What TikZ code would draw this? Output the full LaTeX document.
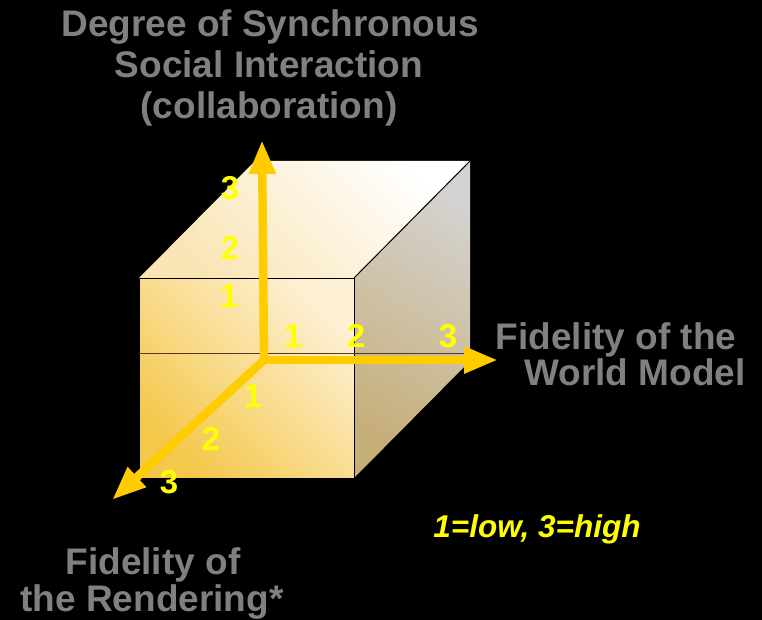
\documentclass[tikz,border=0pt]{standalone}
\usepackage{fontspec}
\setmainfont{Liberation Sans}
\usetikzlibrary{arrows.meta}
\definecolor{labelgray}{RGB}{128,128,128}
\definecolor{axisyellow}{RGB}{255,204,0}
\definecolor{numyellow}{RGB}{255,255,0}
\definecolor{frontA}{RGB}{244,200,75}
\definecolor{frontB}{RGB}{253,240,212}
\definecolor{topA}{RGB}{249,228,180}
\definecolor{topB}{RGB}{255,255,255}
\definecolor{sideA}{RGB}{212,210,208}
\definecolor{sideB}{RGB}{198,174,120}
\tikzset{
  lbl/.style={text=labelgray, font=\bfseries\fontsize{37}{41}\selectfont, anchor=base, inner sep=0pt},
  num/.style={text=numyellow, font=\bfseries\fontsize{33}{36}\selectfont, anchor=base, inner sep=0pt},
  legend/.style={text=numyellow, font=\bfseries\itshape\fontsize{31.5}{34}\selectfont, anchor=base, inner sep=0pt},
  axis/.style={draw=axisyellow, line width=8.5pt, -{Triangle[length=34pt,width=25pt]}},
  edge/.style={draw=black, line width=1pt}
}
\begin{document}
\begin{tikzpicture}[x=1pt,y=-1pt]
\fill[black] (0,0) rectangle (762,620);
\useasboundingbox (0,0) rectangle (762,620);
% cube corners
\coordinate (ftl) at (139,278);
\coordinate (ftr) at (354,278);
\coordinate (fbl) at (139,478);
\coordinate (fbr) at (354,478);
\coordinate (btl) at (255,161);
\coordinate (btr) at (470,161);
\coordinate (bbr) at (470,361);
\coordinate (ml) at (139,353);
\coordinate (mr) at (468,353);
% faces
\shade[top color=frontB, bottom color=frontA, shading angle=-45] (ftl) -- (ftr) -- (fbr) -- (fbl) -- cycle;
\shade[top color=topB, bottom color=topA, shading angle=-45] (ftl) -- (btl) -- (btr) -- (ftr) -- cycle;
\shade[top color=sideA, bottom color=sideB, shading angle=-30] (ftr) -- (btr) -- (bbr) -- (fbr) -- cycle;
\draw[edge] (ftl) -- (ftr) -- (fbr) -- (fbl) -- cycle;
\draw[edge] (ftr) -- (btr);
\draw[line width=0.8pt, draw=black!55!brown] (ml) -- (mr);
% axes
\coordinate (o) at (264,360);
\coordinate (tipv) at (262,140);
\coordinate (tiph) at (498,360);
\coordinate (tipd) at (112,500);
\draw[axis] (o) -- (tipv);
\draw[axis] (o) -- (tiph);
\draw[axis] (o) -- (tipd);
% numbers
\node[num] (v3) at (230,200) {3};
\node[num] (v2) at (230,259) {2};
\node[num] (v1) at (229,307) {1};
\node[num] (h1) at (293,347) {1};
\node[num] (h2) at (356,347) {2};
\node[num] (h3) at (448,347) {3};
\node[num] (d1) at (253,407) {1};
\node[num] (d2) at (211,450) {2};
\node[num] (d3) at (169,493) {3};
% labels
\node[lbl] (t1) at (270,37) {Degree of Synchronous};
\node[lbl] (t2) at (269,78) {Social Interaction};
\node[lbl] (t3) at (269,119) {(collaboration)};
\node[lbl] (r1) at (616,349) {Fidelity of the};
\node[lbl] (r2) at (635,385) {World Model};
\node[lbl] (b1) at (153,574) {Fidelity of};
\node[lbl] (b2) at (152,611) {the Rendering*};
\node[legend] (lg) at (537,537) {1=low, 3=high};
\end{tikzpicture}
\end{document}
